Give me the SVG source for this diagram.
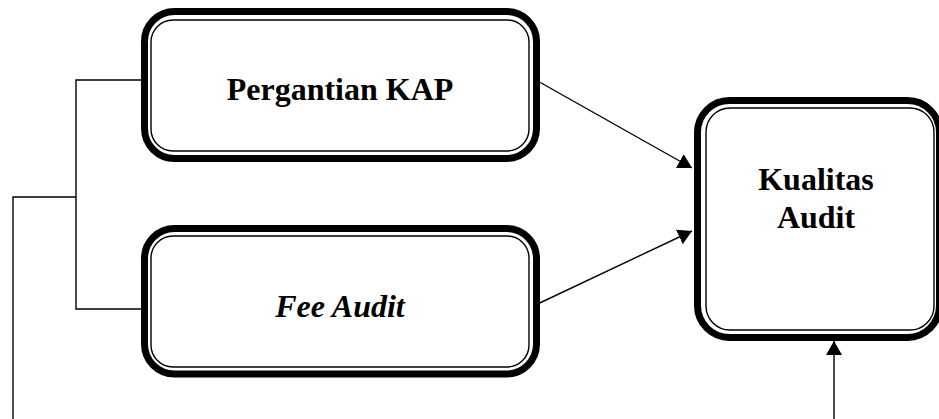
<svg xmlns="http://www.w3.org/2000/svg" width="939" height="419" viewBox="0 0 939 419">
<style>
.outer{fill:#fff;stroke:#000;stroke-width:7}
.inner{fill:none;stroke:#000;stroke-width:1.4}
.lbl{font-family:"Liberation Serif","Times New Roman",serif;font-size:32px;font-weight:bold;text-anchor:middle;fill:#000}
.ln{fill:none;stroke:#000;stroke-width:1.4}
</style>
<defs>
<marker id="ah" markerUnits="userSpaceOnUse" markerWidth="14" markerHeight="16" refX="14" refY="8" orient="auto">
<path d="M0,0 L14,8 L0,16 z" fill="#000"/>
</marker>
</defs>
<rect width="939" height="419" fill="#fff"/>
<g id="connectors">
<polyline class="ln" points="141,80 76,80 76,309 141,309"/>
<polyline class="ln" points="76,197 13,197 13,420"/>
<line class="ln" x1="527" y1="75" x2="692" y2="168" marker-end="url(#ah)"/>
<line class="ln" x1="527" y1="309" x2="692" y2="231" marker-end="url(#ah)"/>
<line class="ln" x1="834" y1="420" x2="834" y2="341" marker-end="url(#ah)"/>
</g>
<g id="node-pergantian">
<rect class="outer" x="144.5" y="11.5" width="392" height="147" rx="30"/>
<rect class="inner" x="151" y="20" width="378" height="131" rx="22"/>
<text class="lbl" x="340" y="100">Pergantian KAP</text>
</g>
<g id="node-fee">
<rect class="outer" x="144.5" y="228.5" width="392" height="145.5" rx="30"/>
<rect class="inner" x="151" y="236" width="378" height="131" rx="22"/>
<text class="lbl" x="340" y="317" font-style="italic">Fee Audit</text>
</g>
<g id="node-kualitas">
<rect class="outer" x="697.5" y="100.5" width="242" height="237" rx="32"/>
<rect class="inner" x="706" y="108" width="228" height="222" rx="24"/>
<text class="lbl" x="816" y="190">Kualitas</text>
<text class="lbl" x="816" y="228">Audit</text>
</g>
</svg>
